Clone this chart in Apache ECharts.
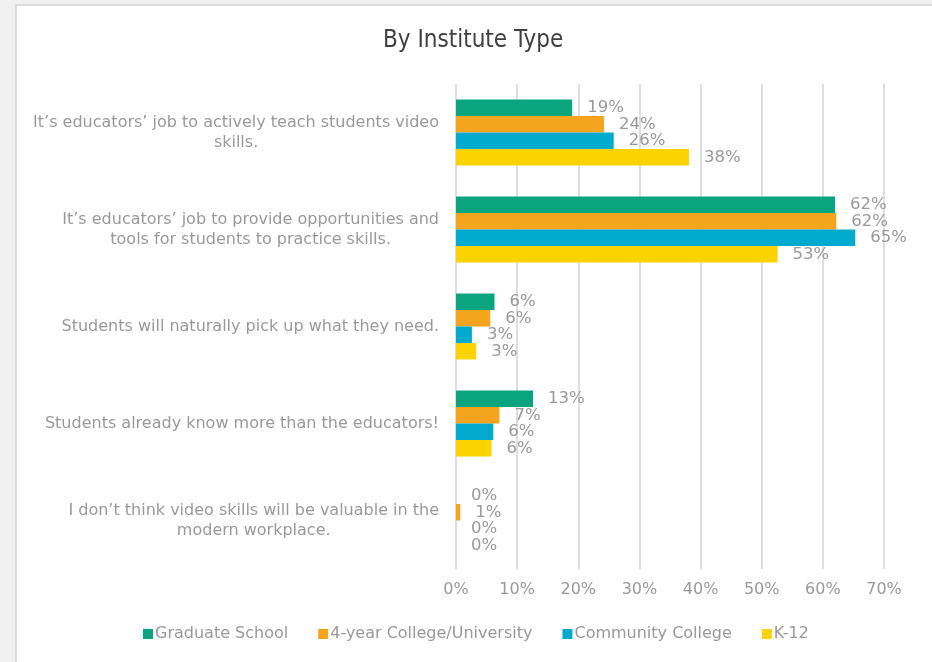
<!DOCTYPE html>
<html>
<head>
<meta charset="utf-8">
<script src="https://cdn.jsdelivr.net/npm/echarts@6/dist/echarts.min.js"></script>
<style>
  html, body { margin: 0; padding: 0; background: #f0f0f0; width: 932px; height: 662px; overflow: hidden; }
  #frame { position: absolute; left: 15px; top: 4px; width: 940px; height: 680px; background: #ffffff; border-left: 2px solid #dcdcdc; border-top: 2px solid #dcdcdc; }
  #chart { position: absolute; left: 0; top: 0; width: 932px; height: 662px; }
</style>
</head>
<body>
<div id="frame"></div>
<div id="chart"></div>
<script>
const categories = [
  "It’s educators’ job to actively teach students video\nskills.",
  "It’s educators’ job to provide opportunities and\ntools for students to practice skills.",
  "Students will naturally pick up what they need.",
  "Students already know more than the educators!",
  "I don’t think video skills will be valuable in the\nmodern workplace."
];
const seriesNames = ["Graduate School", "4-year College/University", "Community College", "K-12"];
const graduateSchool = [19.0, 62.0, 6.3, 12.6, 0];
const fourYearCollege = [24.2, 62.2, 5.6, 7.1, 0.7];
const communityCollege = [25.8, 65.3, 2.6, 6.1, 0];
const k12 = [38.1, 52.6, 3.3, 5.8, 0];
const xTicks = { min: 0, max: 70, interval: 10 };

const colors = ["#0aa57f", "#f5a41e", "#02aacd", "#fcd200"];
const textColor = "#999999";
const font = "DejaVu Sans";

const chart = echarts.init(document.getElementById('chart'), null, { renderer: 'canvas' });

const dataSets = [graduateSchool, fourYearCollege, communityCollege, k12];

const option = {
  backgroundColor: 'transparent',
  animation: false,
  title: {
    text: 'By Institute Type',
    left: 378,
    top: 24,
    textStyle: { fontFamily: 'DejaVu Sans Condensed', fontSize: 24, fontWeight: 'normal', color: '#404040' }
  },
  legend: {
    left: 138,
    top: 621,
    itemWidth: 10,
    itemHeight: 10,
    itemGap: 30,
    icon: 'rect',
    textStyle: { fontFamily: font, fontSize: 16, color: textColor, padding: [0, 0, 0, -3] },
    data: seriesNames
  },
  grid: { left: 456, right: 48, top: 84, bottom: 93, containLabel: false },
  xAxis: {
    type: 'value',
    min: xTicks.min,
    max: xTicks.max,
    interval: xTicks.interval,
    axisLine: { show: false },
    axisTick: { show: false },
    axisLabel: { formatter: '{value}%', fontFamily: font, fontSize: 16, color: textColor, margin: 13 },
    splitLine: { show: true, lineStyle: { color: '#dedede', width: 2 } }
  },
  yAxis: {
    type: 'category',
    inverse: true,
    data: categories,
    axisLine: { show: false },
    axisTick: { show: false },
    axisLabel: {
      margin: 17,
      fontFamily: font,
      fontSize: 16,
      color: textColor,
      lineHeight: 20,
      formatter: function (v) { return v.split('\n').map(l => '{c|' + l + '}').join('\n'); },
      rich: { c: { align: 'center', fontFamily: font, fontSize: 16, color: textColor, lineHeight: 20 } }
    }
  },
  series: seriesNames.map((name, i) => ({
    name: name,
    type: 'bar',
    data: dataSets[i],
    barGap: '0%',
    barCategoryGap: '32%',
    itemStyle: { color: colors[i] },
    label: {
      show: true,
      position: 'right',
      distance: 15,
      fontFamily: font,
      fontSize: 16.5,
      color: textColor,
      formatter: p => Math.round(p.value) + '%'
    }
  }))
};
chart.setOption(option);
</script>
</body>
</html>
